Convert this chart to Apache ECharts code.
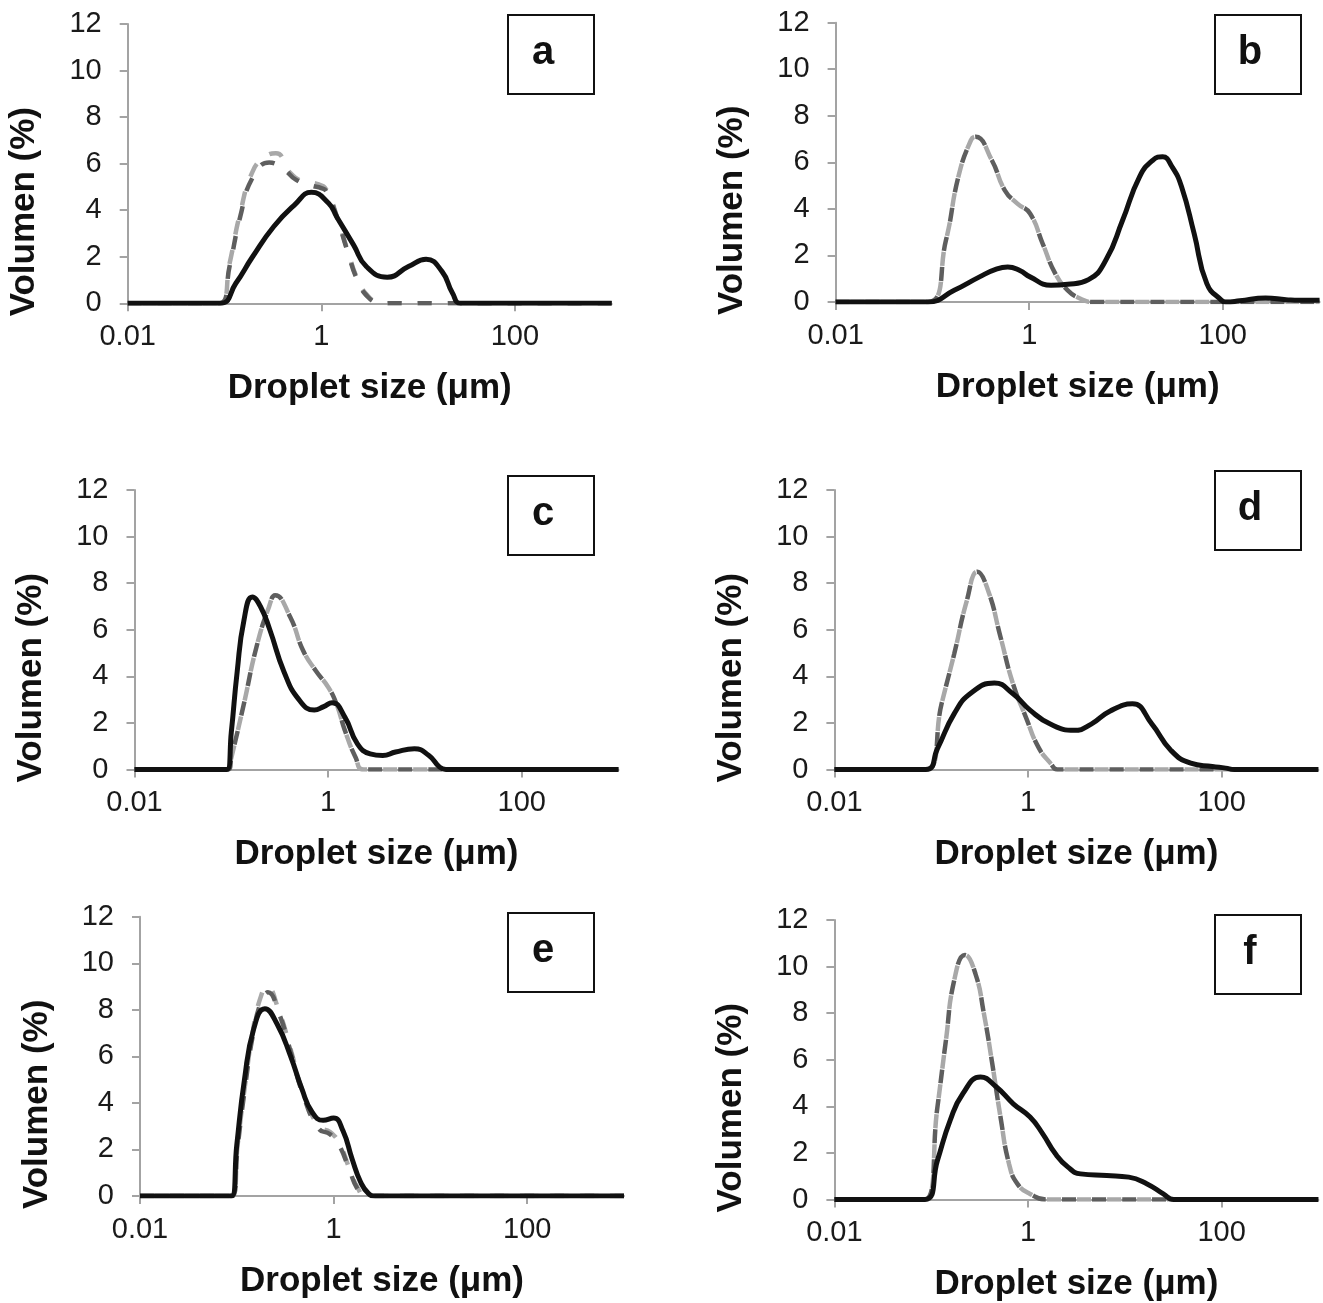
<!DOCTYPE html>
<html>
<head>
<meta charset="utf-8">
<script src="https://cdn.jsdelivr.net/npm/echarts@6/dist/echarts.min.js"></script>
<style>
html,body{margin:0;padding:0;background:#fff;}
#chart{width:1323px;height:1303px;}
</style>
</head>
<body>
<div id="chart"></div>
<script>
// ---- Data: [droplet size (µm), volume (%)] ----
const panelLetters = ['a', 'b', 'c', 'd', 'e', 'f'];
const xTickValues = [0.01, 1, 100];
const yTickMax = 12;
const xAxisTitle = 'Droplet size (\u03bcm)';
const yAxisTitle = 'Volumen (%)';

const aSolid = [[0.01,0],[0.09,0],[0.131,0.86],[0.195,2.0],[0.323,3.3],[0.53,4.23],[0.79,4.77],[1.19,4.3],[1.45,3.7],[2.16,2.5],[2.92,1.58],[4.8,1.12],[7.94,1.58],[12.1,1.89],[17.7,1.36],[22.7,0.43],[27.7,0],[1000,0]];
const aDashLight = [[0.01,0],[0.09,0],[0.113,1.72],[0.145,3.87],[0.195,5.66],[0.264,6.3],[0.34,6.45],[0.48,5.6],[0.65,5.23],[0.92,5.12],[1.13,4.87],[1.45,3.73],[1.86,2.3],[2.39,1.0],[3.07,0.29],[3.94,0.03],[4.5,0],[1000,0]];
const aDashDark = [[0.01,0],[0.09,0],[0.113,1.6],[0.145,3.7],[0.195,5.4],[0.29,6.05],[0.4,5.8],[0.55,5.3],[0.8,5.05],[1.0,4.95],[1.13,4.8],[1.45,3.7],[1.86,2.25],[2.39,0.95],[3.07,0.25],[3.94,0.02],[4.5,0],[1000,0]];

const bSolid = [[0.01,0],[0.09,0],[0.168,0.5],[0.307,1.08],[0.45,1.4],[0.6,1.5],[0.8,1.35],[1.02,1.08],[1.68,0.72],[2.5,0.76],[4.1,0.96],[6.2,1.8],[9.2,3.5],[13.8,5.38],[19,6.1],[23.9,6.24],[30,5.8],[37.5,4.95],[50.6,2.94],[68.4,0.79],[97,0.07],[107,0],[150,0.05],[277,0.17],[450,0.1],[617,0.07],[1000,0.08]];
const bDash = [[0.01,0],[0.09,0],[0.138,2.65],[0.186,5.4],[0.25,6.95],[0.28,7.1],[0.41,6.1],[0.56,4.8],[0.755,4.23],[1.02,3.8],[1.38,2.5],[1.86,1.22],[2.5,0.5],[3.39,0.14],[4.5,0],[1000,0]];

const cSolid = [[0.01,0],[0.09,0],[0.1,1.6],[0.115,4.2],[0.135,6.4],[0.165,7.41],[0.2,7.0],[0.25,6.0],[0.35,4.2],[0.5,3.0],[0.72,2.55],[0.9,2.7],[1.1,2.87],[1.49,2.25],[2.01,1.1],[2.72,0.67],[3.67,0.6],[4.97,0.75],[7.8,0.89],[11,0.6],[14.2,0.1],[16.5,0],[1000,0]];
const cDash = [[0.01,0],[0.093,0],[0.1,0.5],[0.135,2.82],[0.182,5.26],[0.245,6.98],[0.284,7.48],[0.406,6.55],[0.55,5.12],[0.74,4.26],[1.0,3.54],[1.22,2.82],[1.49,1.68],[1.92,0.53],[2.34,0],[1000,0]];

const dSolid = [[0.01,0],[0.088,0],[0.116,0.9],[0.173,2.4],[0.26,3.3],[0.45,3.71],[0.7,3.25],[1.05,2.55],[1.7,1.95],[3.0,1.68],[4.5,1.95],[7.0,2.5],[12,2.82],[19,1.96],[30,0.82],[48,0.27],[80,0.13],[110,0.06],[135,0],[1000,0]];
const dDash = [[0.01,0],[0.088,0],[0.128,2.82],[0.173,4.97],[0.234,7.27],[0.3,8.49],[0.386,7.7],[0.52,5.69],[0.7,3.68],[0.95,2.25],[1.28,0.96],[1.73,0.24],[2.01,0],[1000,0]];

const eSolid = [[0.01,0],[0.088,0],[0.1,2.2],[0.12,5.0],[0.15,7.2],[0.195,8.05],[0.26,7.4],[0.36,6.0],[0.47,4.6],[0.6,3.6],[0.78,3.25],[1.0,3.35],[1.25,2.8],[1.55,1.6],[1.9,0.6],[2.3,0.1],[2.7,0],[1000,0]];
const eDashLight = [[0.01,0],[0.09,0],[0.102,2.2],[0.122,4.8],[0.148,7.2],[0.175,8.5],[0.205,9.0],[0.27,8.0],[0.36,6.3],[0.48,4.5],[0.7,3.0],[0.92,2.75],[1.15,2.25],[1.45,1.2],[1.77,0.36],[2.16,0],[1000,0]];
const eDashDark = [[0.01,0],[0.09,0],[0.102,2.1],[0.122,4.7],[0.148,7.0],[0.18,8.4],[0.21,8.75],[0.27,7.9],[0.36,6.2],[0.48,4.4],[0.7,2.9],[0.92,2.65],[1.15,2.15],[1.45,1.15],[1.77,0.3],[2.16,0],[1000,0]];

const fSolid = [[0.01,0],[0.086,0],[0.116,1.68],[0.157,3.4],[0.212,4.54],[0.323,5.26],[0.472,4.83],[0.705,4.11],[1.05,3.54],[1.42,2.82],[1.92,1.96],[2.59,1.39],[3.49,1.1],[6.5,1.03],[11,0.96],[17,0.67],[25,0.24],[32,0],[1000,0]];
const fDash = [[0.01,0],[0.086,0],[0.116,3.97],[0.142,6.84],[0.173,9.42],[0.223,10.5],[0.286,9.7],[0.35,7.99],[0.427,5.84],[0.52,3.54],[0.637,1.53],[0.778,0.67],[1.05,0.24],[1.57,0],[1000,0]];

// series per panel: [solid, dashed light, dashed dark]
const panelSeries = [
  [aSolid, aDashLight, aDashDark],
  [bSolid, bDash, bDash],
  [cSolid, cDash, cDash],
  [dSolid, dDash, dDash],
  [eSolid, eDashLight, eDashDark],
  [fSolid, fDash, fDash]
];

// ---- Layout (pixels) ----
const grids = [
  {left: 127.7, top: 24,    width: 484, height: 279.3},
  {left: 835.6, top: 22.7,  width: 484, height: 279.3},
  {left: 134.5, top: 490,   width: 484, height: 279.5},
  {left: 834.4, top: 490,   width: 484, height: 279.5},
  {left: 140,   top: 916.7, width: 484, height: 279.3},
  {left: 834.4, top: 920,   width: 484, height: 279.5}
];
const boxes = [
  {x: 508, y: 15}, {x: 1215, y: 15},
  {x: 508, y: 476}, {x: 1215, y: 471},
  {x: 508, y: 913}, {x: 1215, y: 915}
];

const FONT = "'Liberation Sans', Arial, Helvetica, sans-serif";
const axisGray = '#a3a3a3';

const option = {
  animation: false,
  backgroundColor: '#ffffff',
  grid: grids.map(g => ({left: g.left, top: g.top, width: g.width, height: g.height, containLabel: false})),
  xAxis: grids.map((g, i) => ({
    type: 'log', logBase: 10, gridIndex: i, min: 0.01, max: 1000,
    axisLine: {show: true, lineStyle: {color: axisGray, width: 2}},
    axisTick: {show: true, inside: false, length: 8, lineStyle: {color: axisGray, width: 2}, customValues: xTickValues},
    minorTick: {show: false},
    splitLine: {show: false},
    axisLabel: {
      show: true, margin: 19, color: '#1a1a1a', fontFamily: FONT, fontSize: 29,
      customValues: xTickValues,
      formatter: v => (xTickValues.some(t => Math.abs(Math.log10(v) - Math.log10(t)) < 1e-6) ? String(Number(v.toPrecision(6))) : '')
    }
  })),
  yAxis: grids.map((g, i) => ({
    type: 'value', gridIndex: i, min: 0, max: yTickMax, interval: 2,
    axisLine: {show: true, lineStyle: {color: axisGray, width: 2}},
    axisTick: {show: true, inside: false, length: 8, lineStyle: {color: axisGray, width: 2}},
    splitLine: {show: false},
    axisLabel: {show: true, margin: 26, color: '#1a1a1a', fontFamily: FONT, fontSize: 29}
  })),
  series: [],
  graphic: []
};

panelSeries.forEach((ser, i) => {
  const [solid, dashLight, dashDark] = ser;
  option.series.push({
    type: 'line', xAxisIndex: i, yAxisIndex: i, data: dashLight, showSymbol: false, smooth: 0.5, z: 2,
    lineStyle: {color: '#a8a8a8', width: 4.5, type: [14, 16], dashOffset: 15}
  });
  option.series.push({
    type: 'line', xAxisIndex: i, yAxisIndex: i, data: dashDark, showSymbol: false, smooth: 0.5, z: 3,
    lineStyle: {color: '#5e5e5e', width: 4.5, type: [14, 16], dashOffset: 0}
  });
  option.series.push({
    type: 'line', xAxisIndex: i, yAxisIndex: i, data: solid, showSymbol: false, smooth: 0.5, z: 4,
    lineStyle: {color: '#111111', width: 5, type: 'solid'}
  });

  const g = grids[i];
  // x-axis title
  option.graphic.push({
    type: 'text', x: g.left + g.width / 2, y: g.top + g.height + 85,
    style: {text: xAxisTitle, font: "bold 35px " + FONT, fill: '#111', textAlign: 'center', textVerticalAlign: 'middle'}
  });
  // y-axis title
  option.graphic.push({
    type: 'text', x: g.left - 103, y: g.top + g.height / 2 + 48, rotation: Math.PI / 2,
    style: {text: yAxisTitle, font: "bold 35px " + FONT, fill: '#111', textAlign: 'center', textVerticalAlign: 'middle'}
  });
  // panel label box
  const b = boxes[i];
  option.graphic.push({
    type: 'rect', shape: {x: b.x, y: b.y, width: 86, height: 79},
    style: {fill: '#ffffff', stroke: '#111', lineWidth: 2}, z: 10
  });
  option.graphic.push({
    type: 'text', x: b.x + 35, y: b.y + 38, z: 11,
    style: {text: panelLetters[i], font: "bold 40px " + FONT, fill: '#111', textAlign: 'center', textVerticalAlign: 'middle'}
  });
});

const chart = echarts.init(document.getElementById('chart'), null, {renderer: 'canvas'});
chart.setOption(option);
</script>
</body>
</html>
